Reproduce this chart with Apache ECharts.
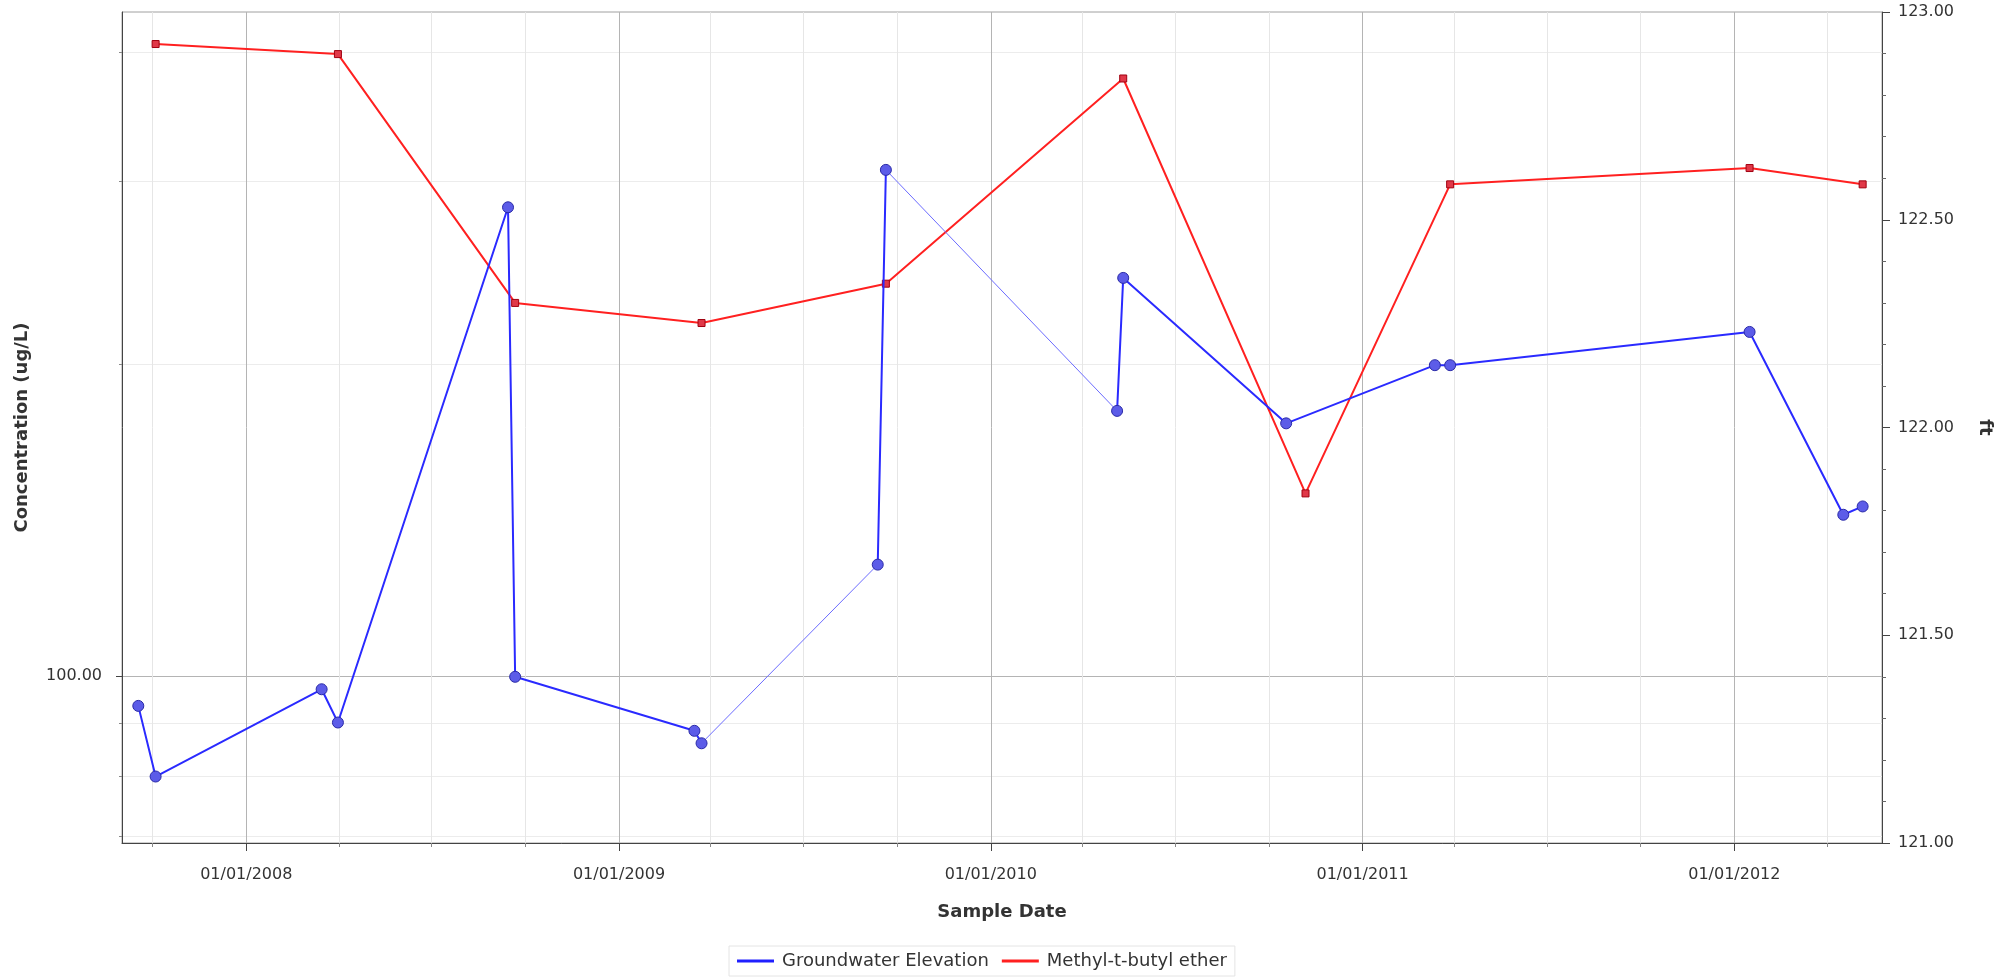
<!DOCTYPE html>
<html>
<head>
<meta charset="utf-8">
<script src="https://cdn.jsdelivr.net/npm/echarts@6/dist/echarts.min.js"></script>
<style>
  html, body { margin: 0; padding: 0; background: #fff; }
  #chart { width: 2011px; height: 980px; }
</style>
</head>
<body>
<div id="chart"></div>
<script>
// groundwater elevation (ft, right axis)
const blueDates = ['2007-09-17', '2007-10-04', '2008-03-15', '2008-03-31', '2008-09-14', '2008-09-21',
  '2009-03-16', '2009-03-23', '2009-09-12', '2009-09-20', '2010-05-05', '2010-05-11',
  '2010-10-18', '2011-03-13', '2011-03-28', '2012-01-16', '2012-04-17', '2012-05-06']
const blueValues = [121.33, 121.16, 121.37, 121.29, 122.53, 121.40,
  121.27, 121.24, 121.67, 122.62, 122.04, 122.36,
  122.01, 122.15, 122.15, 122.23, 121.79, 121.81]
// segments (from index i to i+1) that are drawn with a thin line
const thinSegments = [7, 9]

// MTBE concentration (ug/L, left log axis)
const redDates = ['2007-10-04', '2008-03-31', '2008-09-21', '2009-03-23', '2009-09-20',
  '2010-05-11', '2010-11-06', '2011-03-28', '2012-01-16', '2012-05-06']
const redValues = [407, 398, 229, 219, 239, 377, 150, 298, 309, 298]

// ticks
const yearTicks = ['2008-01-01', '2009-01-01', '2010-01-01', '2011-01-01', '2012-01-01']
const quarterTicks = ['2007-10-01',
  '2008-04-01', '2008-07-01', '2008-10-01',
  '2009-04-01', '2009-07-01', '2009-10-01',
  '2010-04-01', '2010-07-01', '2010-10-01',
  '2011-04-01', '2011-07-01', '2011-10-01',
  '2012-04-01']
const concTicks = [100]
const concMinorTicks = [70, 80, 90, 200, 300, 400]

function ts(s) {
  const p = s.split('-').map(Number)
  return Date.UTC(p[0], p[1] - 1, p[2])
}
function pad(n) { return n < 10 ? '0' + n : '' + n }
function fmtDate(v) {
  const d = new Date(v)
  return pad(d.getUTCMonth() + 1) + '/' + pad(d.getUTCDate()) + '/' + d.getUTCFullYear()
}

const xMin = ts('2007-09-01')
const xMax = ts('2012-05-25')

// thick line with breaks where the thin segments are
const thick = []
const thin = []
for (let i = 0; i < blueDates.length; i++) {
  thick.push([ts(blueDates[i]), blueValues[i]])
  if (thinSegments.indexOf(i) >= 0) {
    thick.push([ts(blueDates[i]), null])
    if (thin.length) thin.push([ts(blueDates[i]), null])
    thin.push([ts(blueDates[i]), blueValues[i]])
    thin.push([ts(blueDates[i + 1]), blueValues[i + 1]])
  }
}
const red = redDates.map((d, i) => [ts(d), redValues[i]])

const font = 'DejaVu Sans, Verdana, sans-serif'
const labelStyle = { fontFamily: font, fontSize: 16, color: '#333' }
const nameStyle = { fontFamily: font, fontSize: 18, fontWeight: 'bold', color: '#333' }

const myChart = echarts.init(document.getElementById('chart'))

myChart.setOption({
  backgroundColor: '#fff',
  animation: false,
  grid: {
    left: 122,
    right: 129,
    top: 12,
    bottom: 137,
    show: true,
    borderColor: '#a0a0a0',
    borderWidth: 1
  },
  legend: {
    left: 729,
    top: 946,
    padding: [6, 8],
    borderColor: '#e4e4e4',
    borderWidth: 1,
    itemWidth: 37,
    itemHeight: 3,
    itemGap: 13,
    textStyle: { fontFamily: font, fontSize: 18, color: '#333', padding: [0, 0, 0, 3] },
    data: [
      { name: 'Groundwater Elevation', icon: 'rect', itemStyle: { color: '#2020ff', borderWidth: 0 } },
      { name: 'Methyl-t-butyl ether', icon: 'rect', itemStyle: { color: '#ff2020', borderWidth: 0 } }
    ]
  },
  xAxis: [
    {
      type: 'value',
      position: 'bottom',
      min: xMin,
      max: xMax,
      name: 'Sample Date',
      nameLocation: 'middle',
      nameGap: 60,
      nameTextStyle: nameStyle,
      axisLine: { lineStyle: { color: '#444', width: 1 } },
      axisTick: { show: true, length: 8, lineStyle: { color: '#444' }, customValues: yearTicks.map(ts) },
      axisLabel: { margin: 24, ...labelStyle, customValues: yearTicks.map(ts), formatter: v => fmtDate(v) },
      splitLine: { show: true, lineStyle: { color: '#b4b4b4', width: 1 } }
    },
    {
      type: 'value',
      position: 'bottom',
      min: xMin,
      max: xMax,
      axisLine: { show: false },
      axisTick: { show: true, length: 4, lineStyle: { color: '#888' }, customValues: quarterTicks.map(ts) },
      axisLabel: { show: false },
      splitLine: { show: true, lineStyle: { color: '#e6e6e6', width: 1 } }
    }
  ],
  yAxis: [
    {
      type: 'log',
      position: 'left',
      min: 69,
      max: 437,
      name: 'Concentration (ug/L)',
      nameLocation: 'middle',
      nameRotate: 90,
      nameGap: 91,
      nameTextStyle: nameStyle,
      axisLine: { show: true, lineStyle: { color: '#444' } },
      axisTick: { show: true, length: 6, lineStyle: { color: '#444' }, customValues: concTicks },
      axisLabel: { margin: 20, ...labelStyle, customValues: concTicks, formatter: v => Number(v).toFixed(2) },
      splitLine: { show: true, lineStyle: { color: '#b4b4b4' } }
    },
    {
      type: 'log',
      position: 'left',
      min: 69,
      max: 437,
      axisLine: { show: false },
      axisTick: { show: true, length: 3, lineStyle: { color: '#888' }, customValues: concMinorTicks },
      axisLabel: { show: false },
      splitLine: { show: true, lineStyle: { color: '#ececec' } }
    },
    {
      type: 'value',
      position: 'right',
      min: 121,
      max: 123,
      interval: 0.5,
      name: 'ft',
      nameLocation: 'middle',
      nameRotate: -90,
      nameGap: 94,
      nameTextStyle: nameStyle,
      axisLine: { show: true, lineStyle: { color: '#444' } },
      axisTick: { show: true, length: 8, lineStyle: { color: '#444' } },
      minorTick: { show: true, splitNumber: 5, length: 4, lineStyle: { color: '#666' } },
      axisLabel: { margin: 16, ...labelStyle, formatter: v => v.toFixed(2) },
      splitLine: { show: false }
    }
  ],
  series: [
    {
      name: 'Methyl-t-butyl ether',
      type: 'line',
      xAxisIndex: 0,
      yAxisIndex: 0,
      data: red,
      symbol: 'rect',
      symbolSize: 7,
      lineStyle: { color: '#ff2020', width: 2 },
      itemStyle: { color: '#e03848', borderColor: '#a00010', borderWidth: 1 },
      z: 3
    },
    {
      name: 'Groundwater Elevation',
      type: 'line',
      xAxisIndex: 0,
      yAxisIndex: 2,
      data: thin,
      showSymbol: false,
      symbol: 'none',
      lineStyle: { color: '#6c6cff', width: 1 },
      itemStyle: { color: '#2020ff' },
      z: 4
    },
    {
      name: 'Groundwater Elevation',
      type: 'line',
      xAxisIndex: 0,
      yAxisIndex: 2,
      data: thick,
      connectNulls: false,
      symbol: 'circle',
      symbolSize: 11,
      lineStyle: { color: '#2a2aff', width: 2 },
      itemStyle: { color: '#5c5ce8', borderColor: '#2a2aa8', borderWidth: 1 },
      z: 5
    }
  ]
})
</script>
</body>
</html>
